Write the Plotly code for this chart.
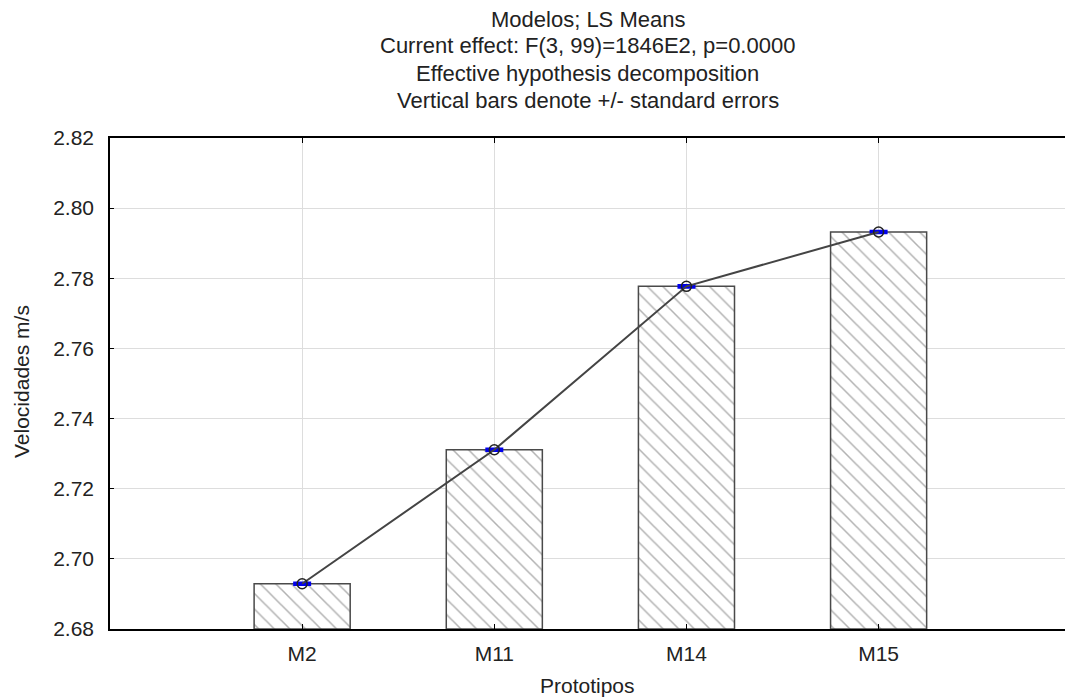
import plotly.graph_objects as go

categories = ["M2", "M11", "M14", "M15"]
means = [2.6929, 2.7311, 2.7777, 2.7932]
std_errors = [0.0003, 0.0003, 0.0003, 0.0003]
y_ticks = [2.68, 2.70, 2.72, 2.74, 2.76, 2.78, 2.80, 2.82]
title_lines = [
    "Modelos; LS Means",
    "Current effect: F(3, 99)=1846E2, p=0.0000",
    "Effective hypothesis decomposition",
    "Vertical bars denote +/- standard errors",
]

FONT = "Liberation Sans, Arial, sans-serif"
W, H = 1065, 698
ML, MR, MT, MB = 110, 0, 138, 69
plot_h = H - MT - MB
BASE = y_ticks[0]

fig = go.Figure()
fig.add_trace(go.Bar(
    x=categories, y=[m - BASE for m in means], base=BASE, width=0.5,
    marker=dict(color="white",
                line=dict(color="#4a4a4a", width=1.5),
                pattern=dict(shape="\\", fgcolor="#666666", bgcolor="white",
                             size=11, solidity=0.14)),
    showlegend=False, hoverinfo="skip",
))

fig.add_trace(go.Scatter(
    x=categories, y=means, mode="lines+markers",
    line=dict(color="#444444", width=2),
    marker=dict(symbol="circle-open", size=10, color="#222222",
                line=dict(width=1.5, color="#222222")),
    error_y=dict(type="data", array=std_errors, visible=True,
                 color="#0000ee", thickness=2.5, width=9),
    showlegend=False,
))

annotations = []
title_centers = [19, 46, 73, 100]
for txt, yc in zip(title_lines, title_centers):
    annotations.append(dict(
        text=txt, xref="paper", yref="paper", x=0.5,
        y=(H - MB - yc) / plot_h, xanchor="center", yanchor="middle",
        showarrow=False, font=dict(family=FONT, size=22, color="#222222"),
    ))
annotations.append(dict(
    text="Velocidades m/s", xref="paper", yref="paper",
    x=(21 - ML) / (W - ML - MR), y=(H - MB - 382) / plot_h,
    xanchor="center", yanchor="middle", textangle=-90, showarrow=False,
    font=dict(family=FONT, size=21, color="#222222"),
))
annotations.append(dict(
    text="Prototipos", xref="paper", yref="paper",
    x=0.5, y=(H - MB - 685) / plot_h,
    xanchor="center", yanchor="middle", showarrow=False,
    font=dict(family=FONT, size=21, color="#222222"),
))

fig.update_layout(
    width=W, height=H,
    margin=dict(l=ML, r=MR, t=MT, b=MB, pad=0),
    paper_bgcolor="white", plot_bgcolor="white",
    font=dict(family=FONT, size=20, color="#222222"),
    annotations=annotations,
)
fig.update_xaxes(
    type="category", range=[-1.0, 3.97],
    tickmode="array", tickvals=categories, ticktext=categories,
    showline=True, linecolor="black", linewidth=1.5, mirror="ticks",
    ticks="inside", ticklen=5, tickcolor="black",
    showgrid=True, gridcolor="#dddddd", gridwidth=1,
    tickfont=dict(family=FONT, size=21, color="#222222"),
    ticklabelstandoff=5, zeroline=False,
)
fig.update_yaxes(
    range=[2.68, 2.82], tickvals=y_ticks,
    ticktext=[f"{v:.2f}" for v in y_ticks],
    showline=True, linecolor="black", linewidth=1.5, mirror=False,
    ticks="inside", ticklen=4, tickcolor="black",
    showgrid=True, gridcolor="#dddddd", gridwidth=1,
    tickfont=dict(family=FONT, size=21, color="#222222"),
    ticklabelstandoff=10, zeroline=False,
)

fig.write_html("out.html", config={"displayModeBar": False})
